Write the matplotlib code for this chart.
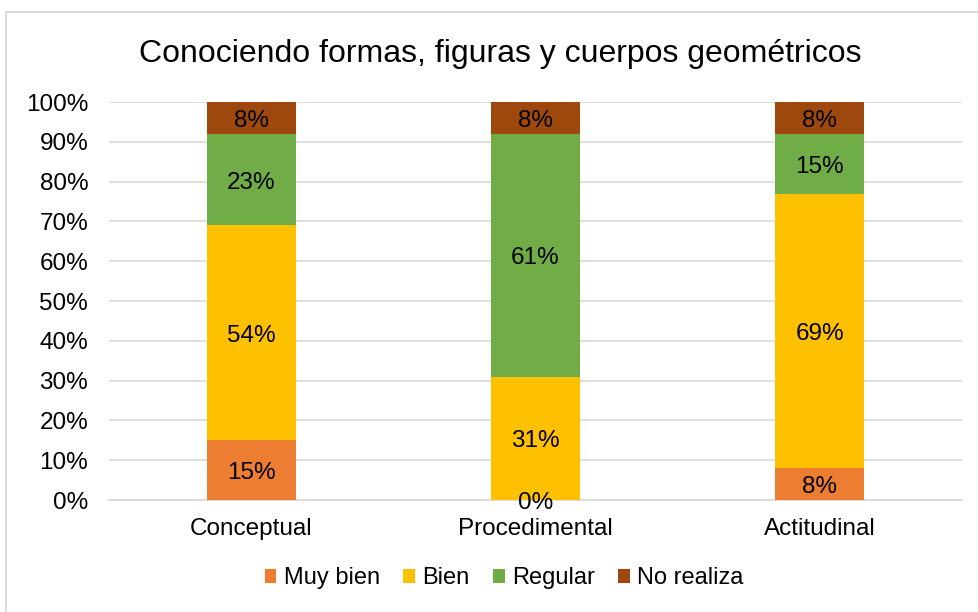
import numpy as np
import matplotlib
matplotlib.use("Agg")
import matplotlib.pyplot as plt
from matplotlib.patches import Rectangle
from matplotlib.ticker import PercentFormatter

plt.rcParams['font.family'] = ['Liberation Sans', 'DejaVu Sans']

categories = ['Conceptual', 'Procedimental', 'Actitudinal']
series = ['Muy bien', 'Bien', 'Regular', 'No realiza']
muy_bien = [15, 0, 8]
bien = [54, 31, 69]
regular = [23, 61, 15]
no_realiza = [8, 8, 8]
colors = ['#ED7D31', '#FFC000', '#70AD47', '#9E480E']

fig = plt.figure(figsize=(9.79, 6.12), dpi=100)
ax = fig.add_axes([0.1113, 0.183, 0.8713, 0.6503])

# light frame around chart area
fig.patches.append(Rectangle((0.006, -0.05), 1.1, 1.03, transform=fig.transFigure,
                             fill=False, edgecolor='#D9D9D9', linewidth=1.5))

x = np.arange(len(categories))
bottom = np.zeros(len(categories))
for name, vals, col in zip(series, [muy_bien, bien, regular, no_realiza], colors):
    vals = np.array(vals, dtype=float)
    ax.bar(x, vals, 0.313, bottom=bottom, color=col, label=name, zorder=3)
    for xi, b, v in zip(x, bottom, vals):
        # labels sit a touch below the segment centre, as in Excel
        ax.annotate(f'{int(v)}%', (xi, b + v / 2), xytext=(0, -3),
                    textcoords='offset pixels', ha='center', va='center',
                    fontsize=17.5, color='#000000', zorder=4)
    bottom += vals

ax.set_xlim(-0.5, 2.5)
ax.set_ylim(0, 100)
ax.set_yticks(np.arange(0, 101, 10))
ax.yaxis.set_major_formatter(PercentFormatter(decimals=0))
ax.set_xticks(x)
ax.set_xticklabels(categories)
ax.tick_params(axis='both', length=0, labelsize=17.5, colors='#000000')
ax.tick_params(axis='x', pad=13)
ax.tick_params(axis='y', pad=15)
ax.grid(axis='y', color='#D9D9D9', linewidth=1.2, zorder=0)
for s in ['top', 'right', 'left']:
    ax.spines[s].set_visible(False)
ax.spines['bottom'].set_color('#D9D9D9')
ax.spines['bottom'].set_linewidth(1.2)

fig.text(0.511, 0.912, 'Conociendo formas, figuras y cuerpos geométricos',
         ha='center', va='center', fontsize=23)

fig.legend(loc='center', bbox_to_anchor=(0.515, 0.055), ncol=4, frameon=False,
           fontsize=17, handlelength=0.5, handleheight=0.5, handletextpad=0.3,
           columnspacing=1.0)

fig.savefig('out.png', dpi=100)
